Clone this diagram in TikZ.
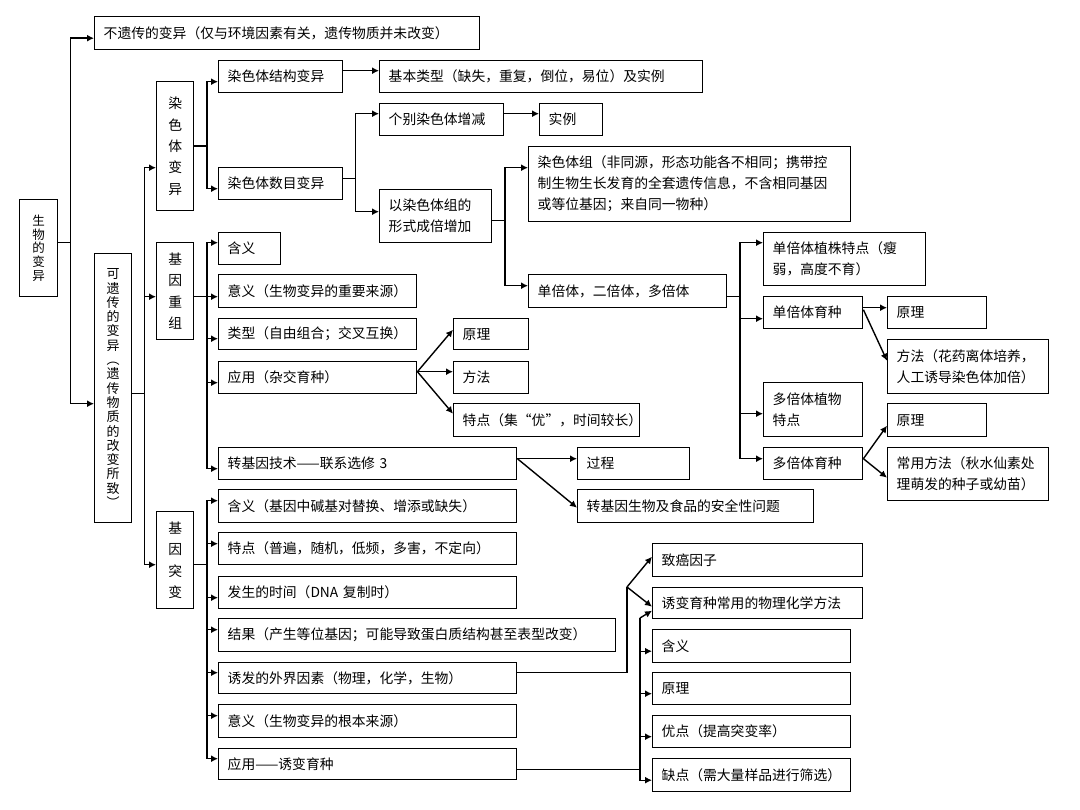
\documentclass[tikz,border=0pt]{standalone}
\usepackage{fontspec}
\setmainfont{Noto Sans CJK SC}
\usetikzlibrary{arrows.meta}
\tikzset{
  box/.style={
    draw,
    line width=1.4pt,
    anchor=north west,
    inner xsep=9pt,
    inner ysep=0pt,
    align=left,
    font=\fontsize{13.8}{21}\selectfont,
  },
  vbox/.style={
    draw,
    line width=1.4pt,
    anchor=north west,
    inner sep=0pt,
    align=center,
    font=\fontsize{13.8}{21.4}\selectfont,
  },
  link/.style={line width=1.4pt},
  arr/.style={link, -{Latex[length=7pt,width=7pt]}},
}

\begin{document}
\begin{tikzpicture}[x=1pt,y=-1pt]
\useasboundingbox (0,0) rectangle (1080,810);

% vertical boxes
\node[vbox, minimum width=38pt, minimum height=97pt, font=\fontsize{12.5}{13.6}\selectfont] (root) at (19,199) {生\\物\\的\\变\\异};
\node[vbox, minimum width=37pt, minimum height=269pt, font=\fontsize{13}{14.3}\selectfont] (her) at (94,253)
  {可\\遗\\传\\的\\变\\异\\︵\\遗\\传\\物\\质\\的\\改\\变\\所\\致\\︶};
\node[vbox, minimum width=37pt, minimum height=129pt] (chrom) at (156,81) {染\\色\\体\\变\\异};
\node[vbox, minimum width=37pt, minimum height=97pt] (recomb) at (156,242) {基\\因\\重\\组};
\node[vbox, minimum width=37pt, minimum height=97pt] (mut) at (156,511) {基\\因\\突\\变};

\node[box, text width=367pt, minimum height=33pt] (nonher) at (94,16) {不遗传的变异（仅与环境因素有关，遗传物质并未改变）};

% chromosome variation
\node[box, text width=106pt, minimum height=32pt] (cstruct) at (218,60) {染色体结构变异};
\node[box, text width=305pt, minimum height=32pt] (basic) at (379,60) {基本类型（缺失，重复，倒位，易位）及实例};
\node[box, text width=106pt, minimum height=32pt] (cnum) at (218,167) {染色体数目变异};
\node[box, text width=106pt, minimum height=32pt] (indiv) at (379,103) {个别染色体增减};
\node[box, text width=45pt, minimum height=32pt] (example) at (539,103) {实例};
\node[box, text width=94pt, minimum height=53pt] (setmult) at (379,189) {以染色体组的\\形式成倍增加};
\node[box, text width=304pt, minimum height=75pt] (cset) at (528,146)
  {染色体组（非同源，形态功能各不相同；携带控\\制生物生长发育的全套遗传信息，不含相同基因\\或等位基因；来自同一物种）};
\node[box, text width=180pt, minimum height=33pt] (ploidy) at (528,274) {单倍体，二倍体，多倍体};
\node[box, text width=144pt, minimum height=53pt] (haplo) at (763,232) {单倍体植株特点（瘦\\弱，高度不育）};
\node[box, text width=81pt, minimum height=32pt] (haplobreed) at (763,296) {单倍体育种};
\node[box, text width=81pt, minimum height=32pt] (hbprinc) at (887,296) {原理};
\node[box, text width=143pt, minimum height=54pt] (hbmethod) at (887,339) {方法（花药离体培养，\\人工诱导染色体加倍）};
\node[box, text width=81pt, minimum height=54pt] (polyplant) at (763,382) {多倍体植物\\特点};
\node[box, text width=81pt, minimum height=32pt] (polybreed) at (763,447) {多倍体育种};
\node[box, text width=81pt, minimum height=33pt] (pbprinc) at (887,403) {原理};
\node[box, text width=143pt, minimum height=53pt] (pbmethod) at (887,447) {常用方法（秋水仙素处\\理萌发的种子或幼苗）};

% recombination
\node[box, text width=44pt, minimum height=32pt] (rmean) at (218,232) {含义};
\node[box, text width=180pt, minimum height=33pt] (rsig) at (218,274) {意义（生物变异的重要来源）};
\node[box, text width=180pt, minimum height=31pt] (rtype) at (218,318) {类型（自由组合；交叉互换）};
\node[box, text width=180pt, minimum height=32pt] (rapp) at (218,361) {应用（杂交育种）};
\node[box, text width=57pt, minimum height=31pt] (rprinc) at (453,318) {原理};
\node[box, text width=57pt, minimum height=32pt] (rmeth) at (453,361) {方法};
\node[box, text width=168pt, minimum height=33pt] (rfeat) at (453,403) {特点（集“优”，时间较长）};
\node[box, text width=280pt, minimum height=32pt] (trans) at (218,447) {转基因技术——联系选修 3};
\node[box, text width=94pt, minimum height=32pt] (tproc) at (577,447) {过程};
\node[box, text width=218pt, minimum height=33pt] (tsafe) at (577,489) {转基因生物及食品的安全性问题};

% mutation
\node[box, text width=280pt, minimum height=33pt] (mmean) at (218,489) {含义（基因中碱基对替换、增添或缺失）};
\node[box, text width=280pt, minimum height=32pt] (mfeat) at (218,532) {特点（普遍，随机，低频，多害，不定向）};
\node[box, text width=280pt, minimum height=32pt] (mtime) at (218,576) {发生的时间（DNA 复制时）};
\node[box, text width=379pt, minimum height=33pt] (mresult) at (218,618) {结果（产生等位基因；可能导致蛋白质结构甚至表型改变）};
\node[box, text width=280pt, minimum height=31pt] (minduce) at (218,662) {诱发的外界因素（物理，化学，生物）};
\node[box, text width=280pt, minimum height=33pt] (msig) at (218,704) {意义（生物变异的根本来源）};
\node[box, text width=280pt, minimum height=31pt] (mapp) at (218,748) {应用——诱变育种};
\node[box, text width=192pt, minimum height=33pt] (mcarc) at (652,543) {致癌因子};
\node[box, text width=192pt, minimum height=31pt] (mphys) at (652,587) {诱变育种常用的物理化学方法};
\node[box, text width=180pt, minimum height=33pt] (amean) at (652,629) {含义};
\node[box, text width=180pt, minimum height=32pt] (aprinc) at (652,672) {原理};
\node[box, text width=180pt, minimum height=32pt] (aadv) at (652,715) {优点（提高突变率）};
\node[box, text width=180pt, minimum height=33pt] (adis) at (652,758) {缺点（需大量样品进行筛选）};

% connectors
\draw[arr] ([yshift=5.5pt]root.east) -- ++(12,0) |- ([yshift=-5pt]nonher.west);
\draw[arr] ([yshift=5.5pt]root.east) -- ++(12,0) |- ([yshift=-15.5pt]her.west);
\foreach \n/\s in {chrom/-21.5pt,recomb/-5.5pt,mut/-4.5pt}
  \draw[arr] ([yshift=-5.5pt]her.east) -- ++(12,0) |- ([yshift=\s]\n.west);

\foreach \n/\s in {cstruct/-5pt,cnum/-5pt}
  \draw[arr] (chrom.east) -- ++(12.5,0) |- ([yshift=\s]\n.west);
\draw[arr] ([yshift=6pt]cstruct.east) -- ([yshift=6pt]basic.west);
\foreach \n/\s in {indiv/6pt,setmult/4.5pt}
  \draw[arr] ([yshift=5pt]cnum.east) -- ++(12,0) |- ([yshift=\s]\n.west);
\draw[arr] ([yshift=6pt]indiv.east) -- ([yshift=6pt]example.west);
\foreach \n/\s in {cset/16.5pt,ploidy/5.5pt}
  \draw[arr] ([yshift=-4.5pt]setmult.east) -- ++(12.5,0) |- ([yshift=\s]\n.west);
\foreach \n/\s in {haplo/16.5pt,haplobreed/-6pt,polyplant/-4pt,polybreed/5pt}
  \draw[arr] ([yshift=-5.5pt]ploidy.east) -- ++(12.5,0) |- ([yshift=\s]\n.west);
\draw[arr] ([yshift=5pt]haplobreed.east) -- ([yshift=5pt]hbprinc.west);
\draw[arr] ([yshift=3pt]haplobreed.east) -- ([yshift=6pt]hbmethod.west);
\draw[arr] ([yshift=5pt]polybreed.east) -- ([yshift=-5.5pt]pbprinc.west);
\draw[arr] ([yshift=5pt]polybreed.east) -- ([yshift=-3.5pt]pbmethod.west);

\foreach \n/\s in {rmean/6pt,rsig/-5.5pt,rtype/-4.5pt,rapp/-5pt,trans/-5pt}
  \draw[arr] ([yshift=-5.5pt]recomb.east) -- ++(12.5,0) |- ([yshift=\s]\n.west);
\foreach \n/\s in {rprinc/4.5pt,rmeth/6pt,rfeat/6.5pt}
  \draw[arr] ([yshift=6pt]rapp.east) -- ([yshift=\s]\n.west);
\draw[arr] ([yshift=5pt]trans.east) -- ([yshift=5pt]tproc.west);
\draw[arr] ([yshift=5pt]trans.east) -- ([yshift=-1.5pt]tsafe.west);

\foreach \n/\s in {mmean/5.5pt,mfeat/5pt,mtime/-5pt,mresult/5.5pt,minduce/5.5pt,msig/5.5pt,mapp/5.5pt}
  \draw[arr] ([yshift=-4.5pt]mut.east) -- ++(12.5,0) |- ([yshift=\s]\n.west);
\coordinate (jind) at (627,587);
\coordinate (japp) at (640,618);
\draw[link] ([yshift=5.5pt]minduce.east) -| (jind);
\draw[arr] (jind) -- ([yshift=3.5pt]mcarc.west);
\draw[arr] (jind) -- ([yshift=-3.5pt]mphys.west);
\draw[link] ([yshift=-5.5pt]mapp.east) -| (japp);
\draw[arr] (japp) -- ([yshift=-7.5pt]mphys.west);
\foreach \n in {amean,aprinc,aadv,adis}
  \draw[arr] (japp) |- ([yshift=-5pt]\n.west);

\end{tikzpicture}
\end{document}
